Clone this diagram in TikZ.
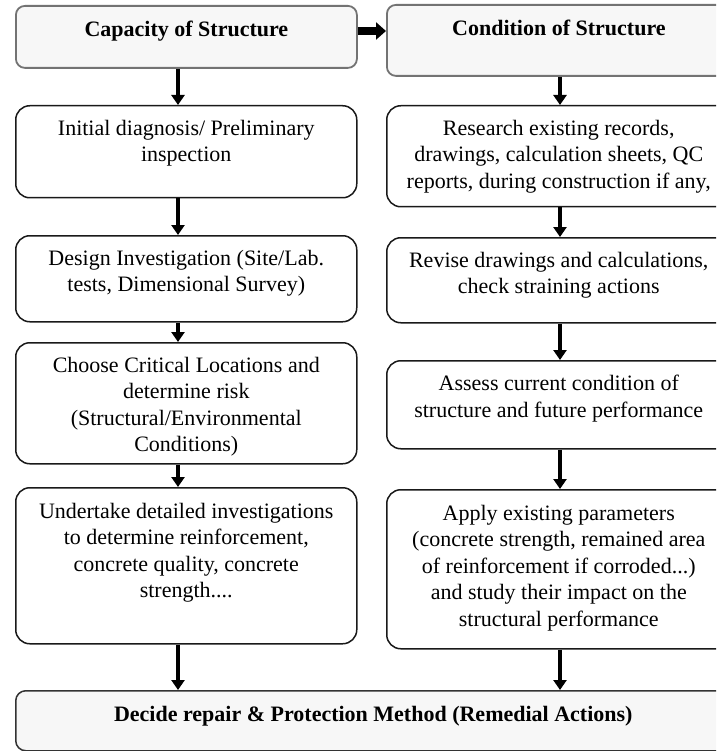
\documentclass[tikz,border=0pt]{standalone}
\usepackage{fontspec}
\setmainfont{Liberation Serif}
\usetikzlibrary{arrows.meta,positioning}
\begin{document}
\begin{tikzpicture}[x=1pt,y=-1pt,
  box/.style={draw=black!90, line width=1.5pt, rounded corners=14pt, fill=white,
    anchor=north west, inner sep=0pt},
  headbox/.style={box, draw=black!55, line width=1.8pt, fill=black!3, rounded corners=9pt},
  endbox/.style={box, draw=black!80, fill=black!3, rounded corners=10pt},
  txt/.style={anchor=north, inner sep=0pt, align=center,
    font=\fontsize{22}{26.5}\selectfont, execute at begin node=\strut},
  headtxt/.style={txt, font=\fontsize{22}{26.5}\selectfont\bfseries},
  flow/.style={line width=4.5pt, -{Triangle[width=13pt,length=10pt]}},
  flowwide/.style={line width=8pt, -{Triangle[width=17pt,length=10pt]}},
]
\path[use as bounding box, clip] (0,0) rectangle (716,751);

% boxes, left column
\node[headbox, minimum width=341pt, minimum height=62pt]  (l1) at (15,5)   {};
\node[box,     minimum width=341pt, minimum height=92pt]  (l2) at (15,105) {};
\node[box,     minimum width=341pt, minimum height=86pt]  (l3) at (15,235) {};
\node[box,     minimum width=341pt, minimum height=121pt] (l4) at (15,342) {};
\node[box,     minimum width=341pt, minimum height=156pt] (l5) at (15,487) {};
% boxes, right column
\node[headbox, minimum width=344pt, minimum height=71pt]  (r1) at (386,4)   {};
\node[box,     minimum width=344pt, minimum height=101pt] (r2) at (386,105) {};
\node[box,     minimum width=344pt, minimum height=85pt]  (r3) at (386,237) {};
\node[box,     minimum width=344pt, minimum height=88pt]  (r4) at (386,360) {};
\node[box,     minimum width=344pt, minimum height=159pt] (r5) at (386,489) {};
% final box
\node[endbox,  minimum width=715pt, minimum height=60pt]  (fin) at (15,690) {};

% texts
\node[headtxt, below=12.5pt of l1.north] (l1t) {Capacity of Structure};
\node[headtxt, below=12.5pt of r1.north] (r1t) {Condition of Structure};
\node[txt, below=15pt of l2.north] (l2t) {Initial diagnosis/ Preliminary\\inspection};
\node[txt, below=15pt of r2.north] (r2t) {Research existing records,\\drawings, calculation sheets, QC\\reports, during construction if any,};
\node[txt, below=15pt of l3.north] (l3t) {Design Investigation (Site/Lab.\\tests, Dimensional Survey)};
\node[txt, below=15pt of r3.north] (r3t) {Revise drawings and calculations,\\check straining actions};
\node[txt, below=15pt of l4.north] (l4t) {Choose Critical Locations and\\determine risk\\(Structural/Environmental\\Conditions)};
\node[txt, below=15pt of r4.north] (r4t) {Assess current condition of\\structure and future performance};
\node[txt, below=16pt of l5.north] (l5t) {Undertake detailed investigations\\to determine reinforcement,\\concrete quality, concrete\\strength....};
\node[txt, below=16pt of r5.north] (r5t) {Apply existing parameters\\(concrete strength, remained area\\of reinforcement if corroded...)\\and study their impact on the\\structural performance};
\node[headtxt, below=12.5pt of fin.north] (fint) {Decide repair \& Protection Method (Remedial Actions)};

% connectors
\coordinate (lx) at (178,0);
\coordinate (rx) at (560,0);
\coordinate (hy) at (0,31);
\draw[flowwide] (l1.east |- hy) -- (r1.west |- hy);
\draw[flow] (l1.south -| lx) -- (l2.north -| lx);
\draw[flow] (l2.south -| lx) -- (l3.north -| lx);
\draw[flow] (l3.south -| lx) -- (l4.north -| lx);
\draw[flow] (l4.south -| lx) -- (l5.north -| lx);
\draw[flow] (l5.south -| lx) -- (fin.north -| lx);
\draw[flow] (r1.south -| rx) -- (r2.north -| rx);
\draw[flow] (r2.south -| rx) -- (r3.north -| rx);
\draw[flow] (r3.south -| rx) -- (r4.north -| rx);
\draw[flow] (r4.south -| rx) -- (r5.north -| rx);
\draw[flow] (r5.south -| rx) -- (fin.north -| rx);
\end{tikzpicture}
\end{document}
